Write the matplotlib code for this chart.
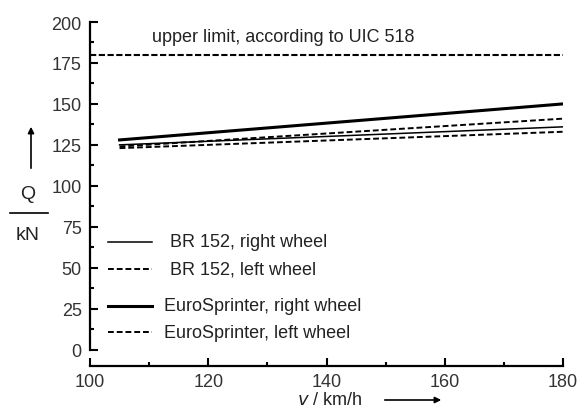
import matplotlib
matplotlib.use('Agg')
import matplotlib.pyplot as plt
from matplotlib.ticker import MultipleLocator

plt.rcParams['font.family'] = ['Liberation Sans', 'DejaVu Sans']

speed = [105, 180]
br152_right = [125, 136]
br152_left = [123, 133]
es_right = [128, 150]
es_left = [124, 141]
uic_limit = 180
uic_x = [100, 180]

series = [
    ('BR 152, right wheel', br152_right, '-', 1.1),
    ('BR 152, left wheel', br152_left, (0, (3, 1.5)), 1.4),
    ('EuroSprinter, right wheel', es_right, '-', 2.2),
    ('EuroSprinter, left wheel', es_left, (0, (3, 1.5)), 1.4),
]

fig = plt.figure(figsize=(5.77, 4.10), dpi=100)
ax = fig.add_axes([90 / 577, 1 - 367 / 410, 473 / 577, 344 / 410])

for label, vals, ls, lw in series:
    ax.plot(speed, vals, color='black', linestyle=ls, linewidth=lw)

ax.plot(uic_x, [uic_limit, uic_limit], color='black', linestyle=(0, (3, 1.2)), linewidth=1.5)
ax.text(110.5, 191, 'upper limit, according to UIC 518', fontsize=13, color='#222222',
        va='center', ha='left')

ax.set_xlim(100, 180)
ax.set_ylim(-10, 200)
ax.spines['top'].set_visible(False)
ax.spines['right'].set_visible(False)
ax.spines['left'].set_bounds(0, 200)
ax.spines['left'].set_linewidth(1.6)
ax.spines['bottom'].set_linewidth(1.6)
ax.xaxis.set_major_locator(MultipleLocator(20))
ax.xaxis.set_minor_locator(MultipleLocator(10))
ax.yaxis.set_major_locator(MultipleLocator(25))
ax.yaxis.set_minor_locator(MultipleLocator(12.5))
ax.yaxis.set_ticks([0, 25, 50, 75, 100, 125, 150, 175, 200])
ax.tick_params(which='both', direction='in', colors='black', labelcolor='#333333', labelsize=13, width=1.5)
ax.tick_params(which='major', length=6)
ax.tick_params(which='minor', length=3)
ax.tick_params(axis='x', pad=5)
ax.tick_params(axis='y', pad=6)

# hand-made legend with uneven spacing, as in the original
leg_y = [243, 270, 307, 333]
leg_tx = [170, 170, 164, 164]
for (label, vals, ls, lw), py, tx in zip(series, leg_y, leg_tx):
    fy = 1 - py / 410
    fig.add_artist(plt.Line2D([108 / 577, 152 / 577], [fy, fy], color='black',
                              linestyle=ls, linewidth=lw))
    fig.text(tx / 577, fy, label, fontsize=13, color='#222222', va='center', ha='left')

# y label: Q over kN with upward arrow
fig.text(28 / 577, 1 - 195 / 410, 'Q', fontsize=14, ha='center', va='center', color='#222222')
fig.add_artist(plt.Line2D([10 / 577, 48 / 577], [1 - 214 / 410, 1 - 214 / 410], color='black', linewidth=1.2))
fig.text(28 / 577, 1 - 236 / 410, 'kN', fontsize=14, ha='center', va='center', color='#222222')
ax.annotate('', xy=(31 / 577, 1 - 125 / 410), xytext=(31 / 577, 1 - 172 / 410),
            xycoords='figure fraction', textcoords='figure fraction',
            arrowprops=dict(arrowstyle='-|>', color='black', lw=1.2, mutation_scale=9))

# x label with arrow
fig.text(297 / 577, 1 - 401 / 410, r'$\it{v}$ / km/h', fontsize=13, ha='left', va='center', color='#222222')
ax.annotate('', xy=(444 / 577, 1 - 401 / 410), xytext=(382 / 577, 1 - 401 / 410),
            xycoords='figure fraction', textcoords='figure fraction',
            arrowprops=dict(arrowstyle='-|>', color='black', lw=1.2, mutation_scale=9))

fig.savefig('out.png', dpi=100)
